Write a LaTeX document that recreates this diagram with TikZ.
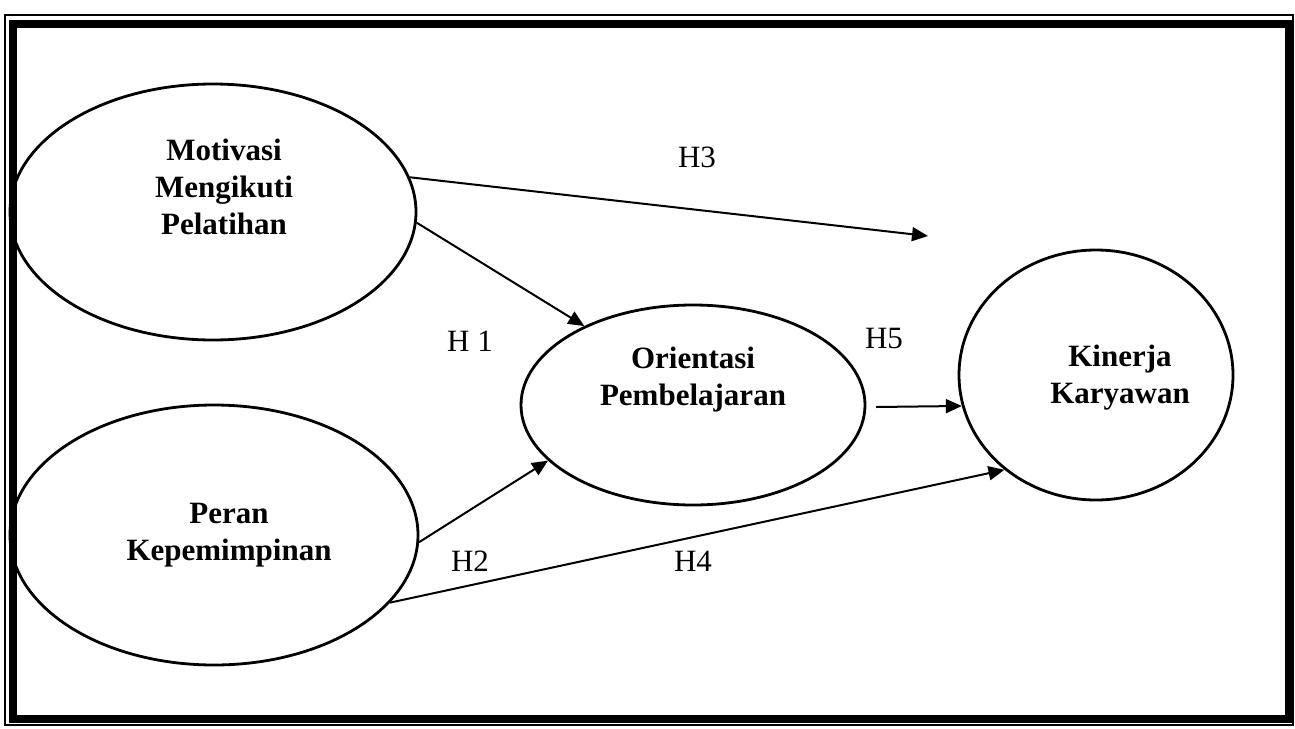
\documentclass[tikz,border=0pt]{standalone}
\usepackage{fontspec}
\setmainfont{Liberation Serif}
\usetikzlibrary{shapes.geometric,arrows.meta}
\begin{document}
\begin{tikzpicture}[x=0.5pt,y=-0.5pt,
  var/.style={draw,ellipse,line width=1.4pt,inner sep=0pt},
  vtext/.style={font=\fontsize{15.5}{18.5}\selectfont\bfseries,align=center,inner sep=0pt},
  hyp/.style={font=\fontsize{15.5}{18}\selectfont,inner sep=0pt},
  arr/.style={line width=1pt,-{Triangle[length=8pt,width=7pt]}}]
\useasboundingbox (0,0) rectangle (1295,728);
\draw[line width=0.6pt] (5,15) rectangle (1293,725);
\draw[line width=4pt] (13,24) rectangle (1289,719);
% variables
\node[var,minimum width=203pt,minimum height=128pt] (mot) at (213,212) {};
\node[var,minimum width=204pt,minimum height=130pt] (per) at (214,535) {};
\node[var,minimum width=172pt,minimum height=100pt] (ori) at (693,405) {};
\node[var,minimum width=137pt,minimum height=125pt] (kin) at (1096,375) {};
\node[vtext] (motT) at (224,187) {Motivasi\\Mengikuti\\Pelatihan};
\node[vtext] (perT) at (229,535) {Peran\\Kepemimpinan};
\node[vtext] (oriT) at (693,380) {Orientasi\\Pembelajaran};
\node[vtext] (kinT) at (1120,378) {Kinerja\\Karyawan};
% connectors
\coordinate (h3e) at (928,236);
\coordinate (h5s) at (876,407);
\draw[arr] (mot.10.9) -- (h3e);
\draw[arr] (mot.-3.7) -- (ori.144.7);
\draw[arr] (per.-2.5) -- (ori.201.7);
\draw[arr] (per.-21.1) -- (kin.226);
\draw[arr] (h5s) -- (kin.193.6);
% labels
\node[hyp] (l3) at (697,157) {H3};
\node[hyp] (l1) at (470,341) {H 1};
\node[hyp] (l5) at (884,338) {H5};
\node[hyp] (l2) at (470,561) {H2};
\node[hyp] (l4) at (693,561) {H4};
\end{tikzpicture}
\end{document}
